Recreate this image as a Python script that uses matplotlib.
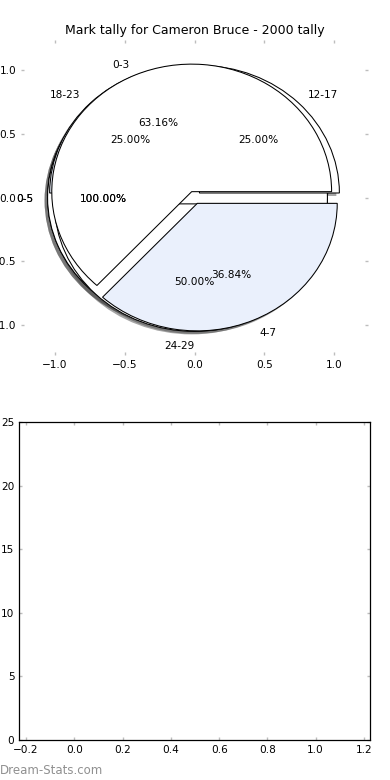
import matplotlib
matplotlib.use("Agg")
import matplotlib.pyplot as plt
import matplotlib.transforms as mtransforms

# ---- data ----
title = "Mark tally for Cameron Bruce - 2000 tally"
pie_a_labels = ["0-5"]
pie_a_values = [1]
pie_b_labels = ["12-17", "18-23", "24-29"]
pie_b_values = [1, 1, 2]
pie_c_labels = ["0-3", "4-7"]
pie_c_values = [12, 7]
pie_ticks = [-1.0, -0.5, 0.0, 0.5, 1.0]
bar_xticks = [-0.2, 0.0, 0.2, 0.4, 0.6, 0.8, 1.0, 1.2]
bar_yticks = [0, 5, 10, 15, 20, 25]
watermark = "Dream-Stats.com"

DPI = 100
fig = plt.figure(figsize=(3.9, 7.8), dpi=DPI)

FS = 7.6
tick_color = "#bdbdbd"
palette = ["white", "#eaf0fc"]
EXPL = 0.05
SHADOW_DX, SHADOW_DY = -0.0214, -0.0235   # old-style shadow offset in data units

ax1 = fig.add_axes([21 / 390, 1 - 355 / 780, 347 / 390, 315 / 780])
text_shift = mtransforms.ScaledTranslation(0, -1.5 / DPI, fig.dpi_scale_trans)

pies = [(pie_a_values, pie_a_labels), (pie_a_values, pie_a_labels),
        (pie_b_values, pie_b_labels), (pie_c_values, pie_c_labels)]

# shadows first (behind every wedge)
for values, labels in pies:
    ax1.pie(values, explode=[EXPL] * len(values), center=(SHADOW_DX, SHADOW_DY),
            colors=[(0.3, 0.3, 0.3)], frame=True,
            wedgeprops={"linewidth": 0, "alpha": 0.5, "zorder": 0.9})

for values, labels in pies:
    cols = [palette[i % len(palette)] for i in range(len(values))]
    wedges, texts, autotexts = ax1.pie(
        values, labels=labels, colors=cols, autopct="%1.2f%%",
        explode=[EXPL] * len(values), labeldistance=1.1, pctdistance=0.6,
        wedgeprops={"edgecolor": "black", "linewidth": 0.75},
        textprops={"fontsize": FS, "color": "black"}, frame=True)
    for t in texts:
        x, y = t.get_position()
        if abs(x) < 1e-6:
            t.set_horizontalalignment("right")
    for t in list(texts) + list(autotexts):
        t.set_transform(ax1.transData + text_shift)

ax1.set_aspect("auto")
ax1.set_xlim(-1.24, 1.24)
ax1.set_ylim(-1.235, 1.235)
ax1.set_xticks(pie_ticks)
ax1.set_yticks(pie_ticks)
for s in ax1.spines.values():
    s.set_visible(False)
ax1.set_title(title, fontsize=9.0, pad=4.5)

ax2 = fig.add_axes([19.3 / 390, 1 - 740 / 780, (370 - 19.3) / 390, (740 - 422) / 780])
ax2.set_xlim(-0.228, 1.225)
ax2.set_ylim(0, 25)
ax2.set_xticks(bar_xticks)
ax2.set_yticks(bar_yticks)
for s in ax2.spines.values():
    s.set_color("black")
    s.set_linewidth(0.9)

for ax in (ax1, ax2):
    ax.tick_params(axis="both", which="both", direction="in", length=2.2, width=1.0,
                   color=tick_color, labelsize=FS, labelcolor="black",
                   top=True, right=True, pad=3.5)

fig.text(0.0, 1 - 770 / 780, watermark, fontsize=8.5, color="#909090",
         ha="left", va="center")

fig.savefig("out.png", dpi=DPI)
